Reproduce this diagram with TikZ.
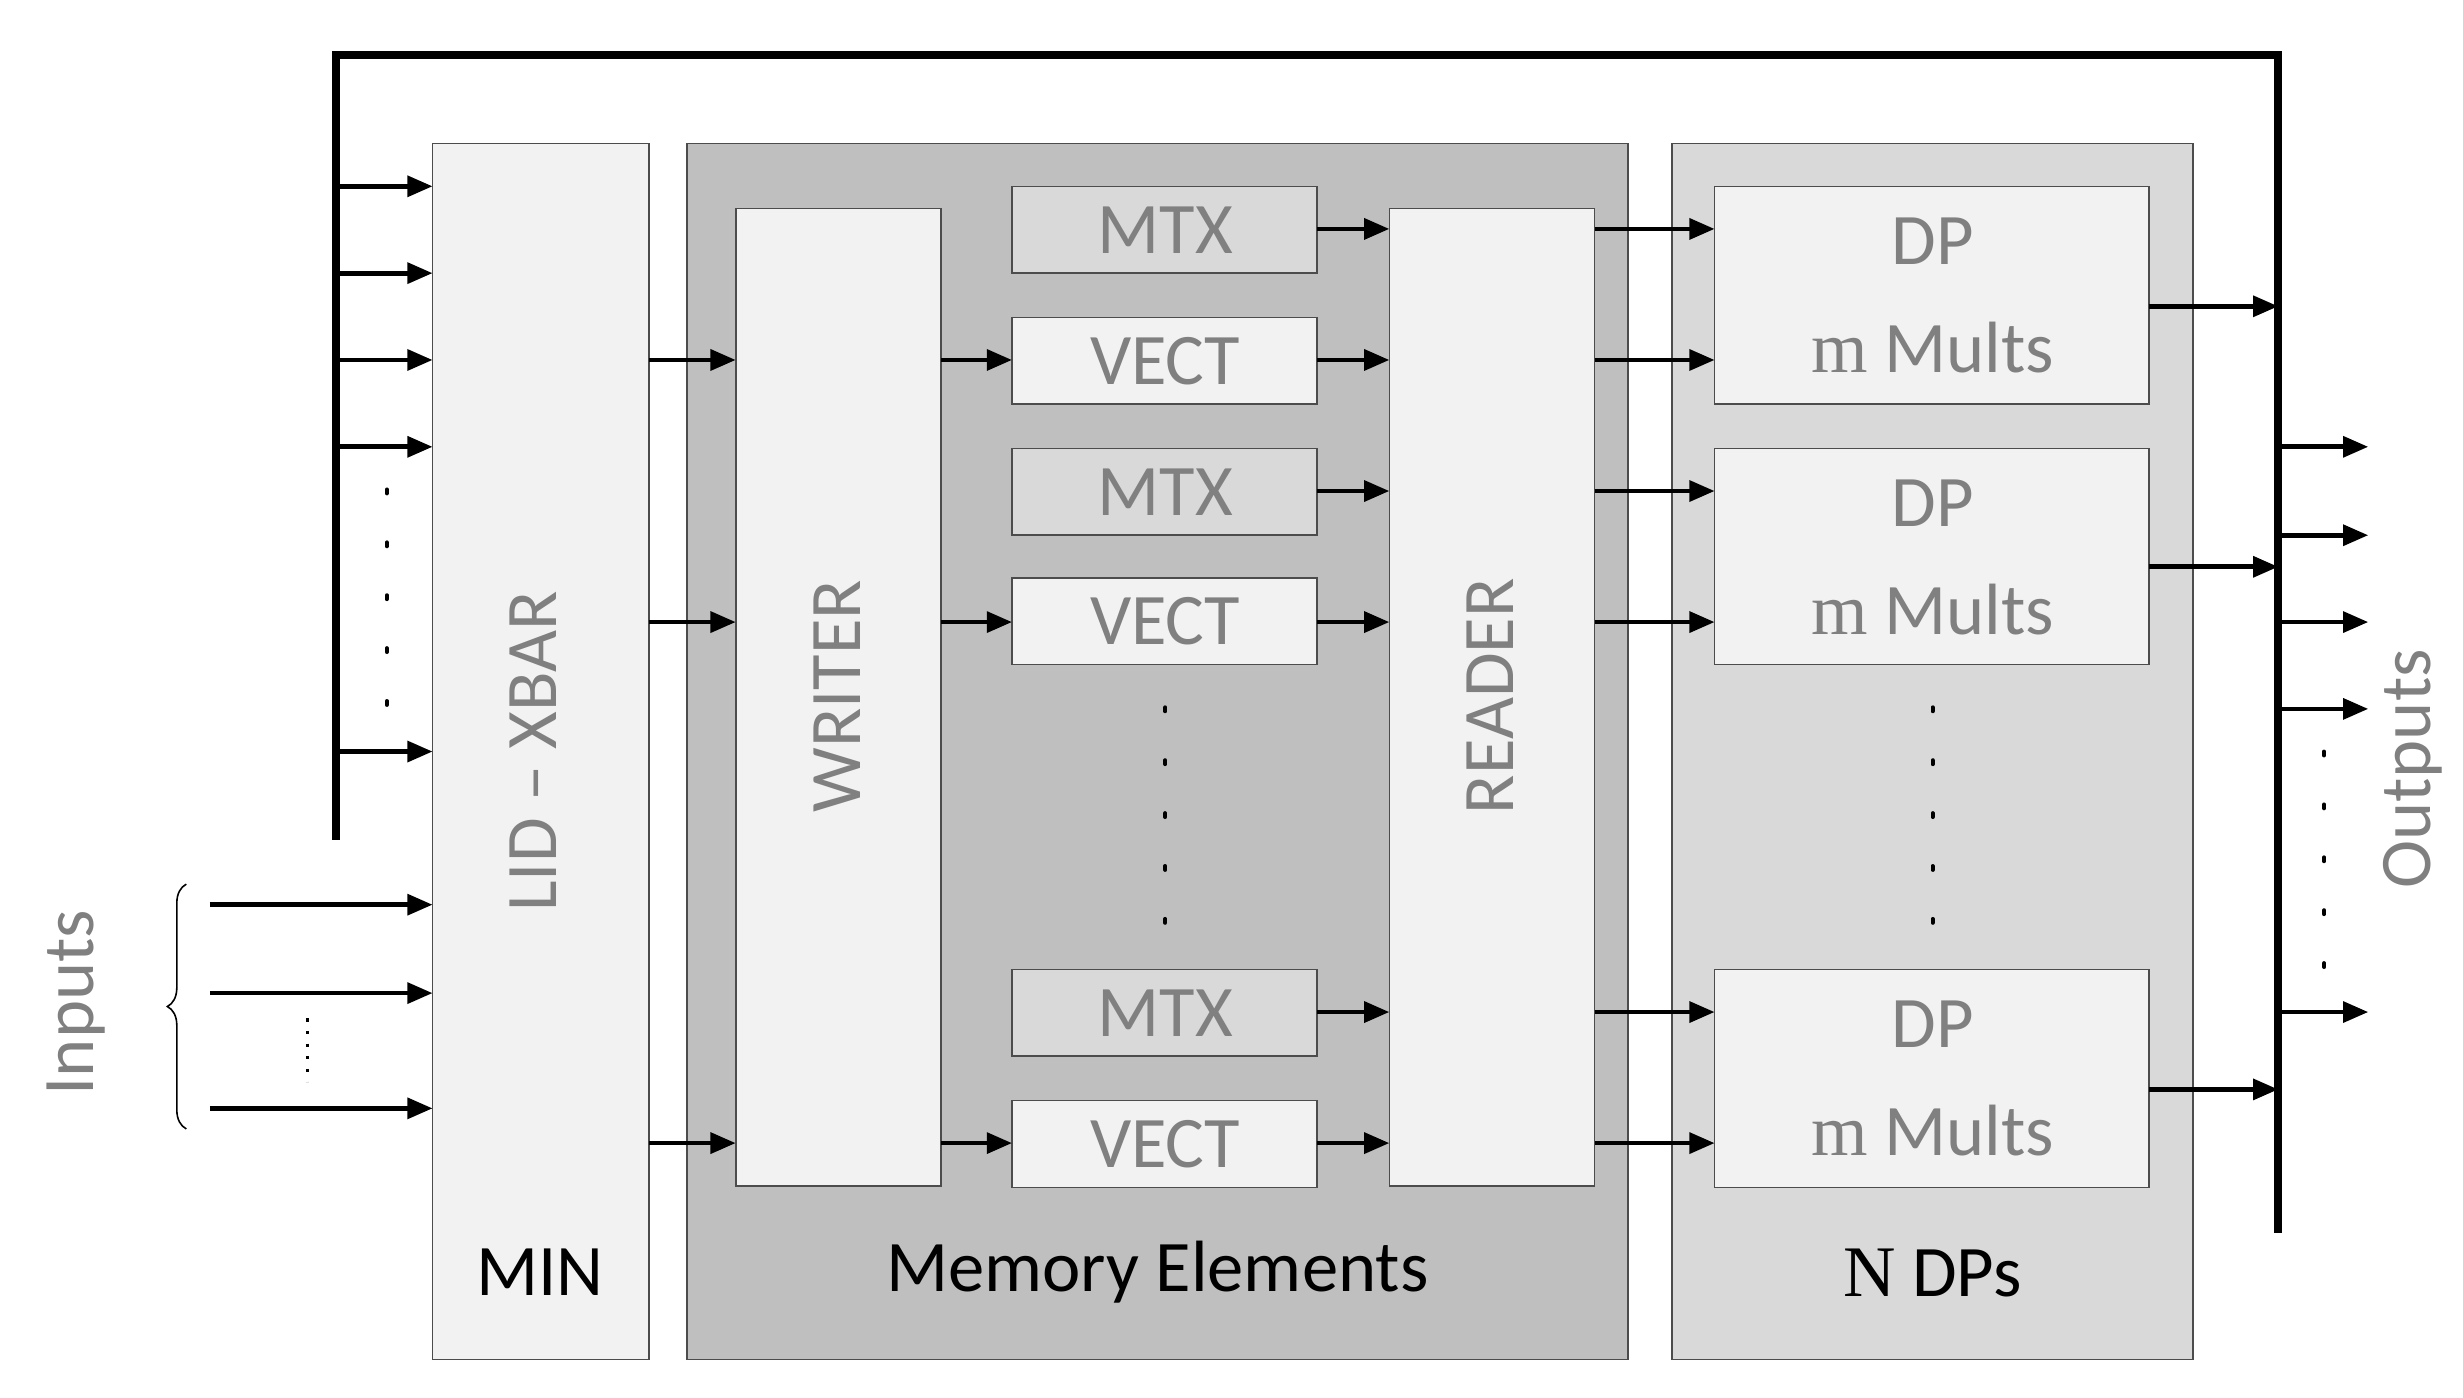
\documentclass[tikz,border=0pt]{standalone}
\usepackage{fontspec}
\setmainfont{Carlito}
\newfontfamily\serif{Liberation Serif}
\usetikzlibrary{arrows.meta,decorations.pathreplacing}
\definecolor{tg}{HTML}{808080}
\begin{document}
\begin{tikzpicture}[x=1pt,y=-1pt,
  box/.style={draw=black!70,line width=1pt,inner sep=0},
  ar/.style={line width=3pt,-{Triangle[length=16pt,width=13pt]}},
  bus/.style={line width=5pt},
  gt/.style={text=tg,font=\fontsize{46}{50}\selectfont},
  bt/.style={text=black,font=\fontsize{46}{50}\selectfont},
  dotsv/.style={line width=2.5pt,dash pattern=on 2.5pt off 31pt,line cap=round}]
\useasboundingbox (0,0) rectangle (1560,885);
% boxes
\draw[box,fill=black!5] (274,91) rectangle (411,861);
\draw[box,fill=black!25] (435,91) rectangle (1031,861);
\draw[box,fill=black!15] (1059,91) rectangle (1389,861);
\node[bt] (min) at (342,806) {MIN};
\node[bt] (mem) at (733,806) {Memory Elements};
\node[bt] (ndp) at (1224,806) {{\serif N} DPs};
\node[gt,rotate=90] (xbar) at (338,476) {LID -- XBAR};
\draw[box,fill=black!5] (466,132) rectangle (596,751);
\node[gt,rotate=90] (wr) at (530,441) {WRITER};
\draw[box,fill=black!5] (880,132) rectangle (1010,751);
\node[gt,rotate=90] (rd) at (944,441) {READER};
\foreach \n/\ya/\yb/\f/\t in {m1/118/173/15/MTX,v1/201/256/5/VECT,m2/284/339/15/MTX,v2/366/421/5/VECT,m3/614/669/15/MTX,v3/697/752/5/VECT}{
  \draw[box,fill=black!\f] (641,\ya) rectangle (834,\yb);
  \node[gt] (\n) at (738,{(\ya+\yb)/2}) {\t};
}
\foreach \n/\ya/\yb in {d1/118/256,d2/284/421,d3/614/752}{
  \draw[box,fill=black!5] (1086,\ya) rectangle (1361,\yb);
  \node[gt] (\n a) at (1224,{\ya+35}) {DP};
  \node[gt] (\n b) at (1224,{\ya+102}) {{\serif m} Mults};
}
% bus
\draw[bus] (213,532) -- (213,35) -- (1443,35) -- (1443,781);
\foreach \y in {118,173,228,283,476} \draw[ar] (213,\y) -- (274,\y);
\draw[dotsv] (245,310) -- (245,455);
% inputs
\foreach \y in {573,629,702} \draw[ar] (133,\y) -- (274,\y);
\draw[line width=2pt,dash pattern=on 2pt off 6pt] (195,645) -- (195,685);
\draw[line width=1pt,decorate,decoration={brace,amplitude=12pt}] (118,715) -- (118,560);
\node[gt,rotate=90] (in) at (48,635) {Inputs};
% min -> writer
\foreach \y in {228,394,724} \draw[ar] (411,\y) -- (466,\y);
\foreach \y in {228,394,724} \draw[ar] (596,\y) -- (641,\y);
\foreach \y in {145,228,311,394,641,724} \draw[ar] (834,\y) -- (880,\y);
\draw[dotsv] (738,448) -- (738,590);
\foreach \y in {145,228,311,394,641,724} \draw[ar] (1010,\y) -- (1086,\y);
\draw[dotsv] (1224,448) -- (1224,590);
\foreach \y in {194,359,690} \draw[ar] (1361,\y) -- (1443,\y);
\foreach \y in {283,339,394,449,641} \draw[ar] (1443,\y) -- (1500,\y);
\draw[dotsv] (1472,476) -- (1472,620);
\node[gt,rotate=90] (out) at (1528,487) {Outputs};
\end{tikzpicture}
\end{document}
